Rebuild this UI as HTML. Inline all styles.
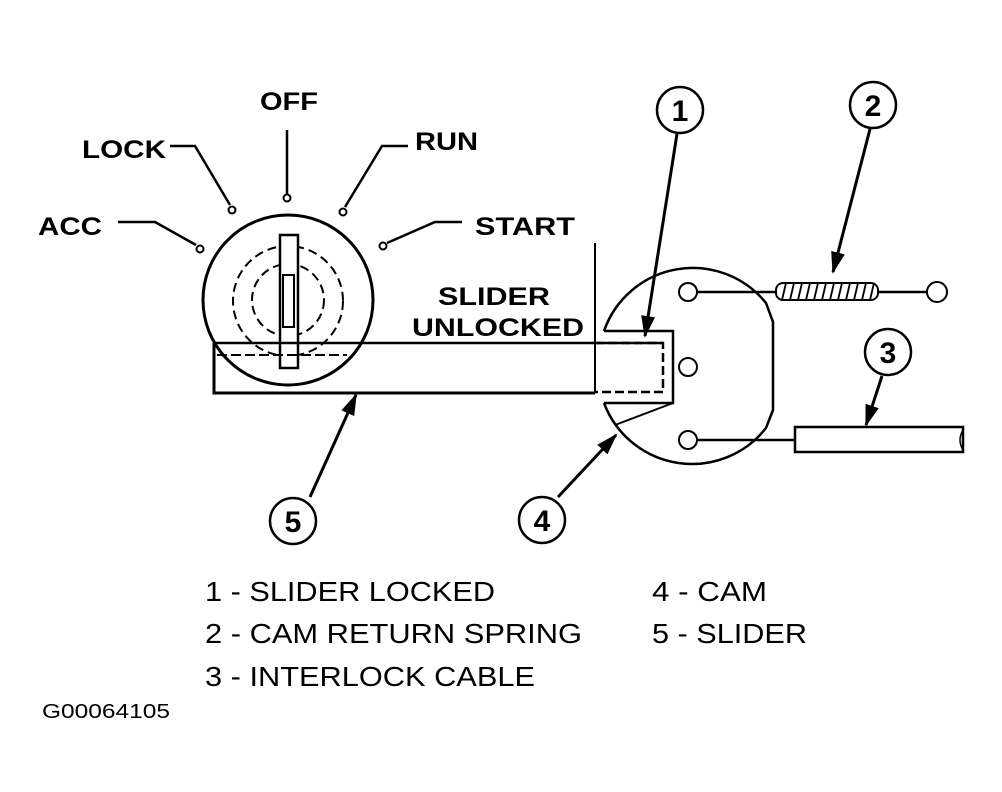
<!DOCTYPE html>
<html><head><meta charset="utf-8"><style>html,body{margin:0;padding:0;background:#fff}svg{display:block}</style></head>
<body>
<svg width="1002" height="792" viewBox="0 0 1002 792" xmlns="http://www.w3.org/2000/svg">
<defs><marker id="ah" markerWidth="10" markerHeight="10" refX="9" refY="5" orient="auto" markerUnits="userSpaceOnUse"><path d="M0,0 L10,5 L0,10 Z" fill="#000"/></marker>
<marker id="ah2" markerWidth="22" markerHeight="14" refX="20" refY="7" orient="auto" markerUnits="userSpaceOnUse"><path d="M0,0 L22,7 L0,14 Z" fill="#000"/></marker></defs>
<g font-family="Liberation Sans, sans-serif" font-weight="bold" font-size="25" fill="#000">
<text x="260" y="110" textLength="58" lengthAdjust="spacingAndGlyphs">OFF</text>
<text x="82" y="158" textLength="84" lengthAdjust="spacingAndGlyphs">LOCK</text>
<text x="415" y="150" textLength="63" lengthAdjust="spacingAndGlyphs">RUN</text>
<text x="38" y="235" textLength="64" lengthAdjust="spacingAndGlyphs">ACC</text>
<text x="475" y="235" textLength="100" lengthAdjust="spacingAndGlyphs">START</text>
<text x="438" y="305" textLength="112" lengthAdjust="spacingAndGlyphs">SLIDER</text>
<text x="412" y="336" textLength="172" lengthAdjust="spacingAndGlyphs">UNLOCKED</text>
</g>
<g fill="none" stroke="#000" stroke-width="2.5">
<!-- position leaders -->
<line x1="287" y1="130" x2="287" y2="194"/><circle cx="287" cy="198" r="3.5" stroke-width="2"/>
<polyline points="170,146 195,146 230,205"/><circle cx="232" cy="210" r="3.5" stroke-width="2"/>
<polyline points="408,146 382,146 345,207"/><circle cx="343" cy="212" r="3.5" stroke-width="2"/>
<polyline points="118,222 155,222 196,245"/><circle cx="200" cy="249" r="3.5" stroke-width="2"/>
<polyline points="462,222 435,222 387,243"/><circle cx="383" cy="246" r="3.5" stroke-width="2"/>
<!-- lock cylinder -->
<circle cx="288" cy="300" r="85" stroke-width="3"/>
<circle cx="288" cy="301" r="55" stroke-dasharray="9,5" stroke-width="2"/>
<circle cx="288" cy="300" r="36" stroke-dasharray="9,5" stroke-width="2"/>
<rect x="280" y="235" width="18" height="133" fill="#fff" stroke-width="2.5"/>
<rect x="283" y="275" width="11" height="52" stroke-width="2"/>
<!-- slider -->
<line x1="214" y1="343" x2="663" y2="343" stroke-width="2.5"/>
<polyline points="214,343 214,393 595,393" stroke-width="3"/>
<line x1="217" y1="355" x2="347" y2="355" stroke-dasharray="10,4" stroke-width="2"/>
<line x1="595" y1="243" x2="595" y2="393" stroke-width="2"/>
<polyline points="595,343 663,343 663,392 595,392" stroke-dasharray="9,4" stroke-width="2.5"/>
<!-- cam -->
<path d="M604,331 A94,94 0 0 1 766,303 L773,322 L773,410 L766,428 A94,94 0 0 1 604,403" stroke-width="2.5"/>
<polyline points="604,331 673,331 673,403 604,403" stroke-width="2.5"/>
<line x1="673" y1="403" x2="615" y2="425" stroke-width="2"/>
<circle cx="688" cy="292" r="9" stroke-width="2"/>
<circle cx="688" cy="367" r="9" stroke-width="2"/>
<circle cx="688" cy="440" r="9" stroke-width="2"/>
<line x1="697" y1="292" x2="776" y2="292" stroke-width="2.5"/>
<rect x="776" y="283" width="102" height="17" rx="7" stroke-width="2"/>
<path d="M782,300 L786,283 M790,300 L794,283 M798,300 L802,283 M806,300 L810,283 M814,300 L818,283 M822,300 L826,283 M830,300 L834,283 M838,300 L842,283 M846,300 L850,283 M854,300 L858,283 M862,300 L866,283 M870,300 L874,283" stroke-width="1.8"/>
<line x1="878" y1="292" x2="927" y2="292" stroke-width="2.5"/>
<circle cx="937" cy="292" r="10" stroke-width="2"/>
<line x1="697" y1="440" x2="795" y2="440" stroke-width="2.5"/>
<rect x="795" y="427" width="168" height="25" stroke-width="2.5"/>
<path d="M963,430 Q957,440 963,450" stroke-width="1.5"/>
<!-- callouts -->
<circle cx="680" cy="110" r="23" stroke-width="2.5"/>
<circle cx="873" cy="105" r="23" stroke-width="2.5"/>
<circle cx="888" cy="352" r="23" stroke-width="2.5"/>
<circle cx="542" cy="520" r="23" stroke-width="2.5"/>
<circle cx="293" cy="521" r="23" stroke-width="2.5"/>
<line x1="677" y1="134" x2="645" y2="336" marker-end="url(#ah2)" stroke-width="3"/>
<line x1="870" y1="129" x2="833" y2="272" marker-end="url(#ah2)" stroke-width="3"/>
<line x1="882" y1="376" x2="866" y2="425" marker-end="url(#ah2)" stroke-width="3"/>
<line x1="558" y1="497" x2="616" y2="435" marker-end="url(#ah2)" stroke-width="3"/>
<line x1="310" y1="497" x2="356" y2="395" marker-end="url(#ah2)" stroke-width="3"/>
</g>
<g font-family="Liberation Sans, sans-serif" font-weight="bold" font-size="30" fill="#000" text-anchor="middle">
<text x="680" y="121">1</text><text x="873" y="116">2</text><text x="888" y="363">3</text><text x="542" y="531">4</text><text x="293" y="532">5</text>
</g>
<g font-family="Liberation Sans, sans-serif" font-size="28" fill="#000">
<text x="205" y="601" textLength="290" lengthAdjust="spacingAndGlyphs">1 - SLIDER LOCKED</text>
<text x="205" y="643" textLength="377" lengthAdjust="spacingAndGlyphs">2 - CAM RETURN SPRING</text>
<text x="205" y="686" textLength="330" lengthAdjust="spacingAndGlyphs">3 - INTERLOCK CABLE</text>
<text x="652" y="601" textLength="115" lengthAdjust="spacingAndGlyphs">4 - CAM</text>
<text x="652" y="643" textLength="155" lengthAdjust="spacingAndGlyphs">5 - SLIDER</text>
<text x="42" y="718" font-size="20" textLength="128" lengthAdjust="spacingAndGlyphs">G00064105</text>
</g>
</svg>
</body></html>
